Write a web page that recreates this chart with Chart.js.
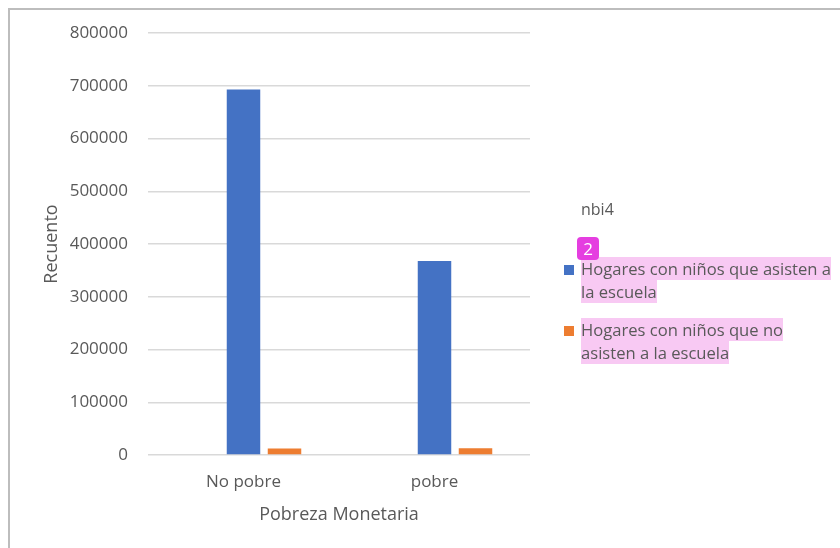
<!DOCTYPE html>
<html lang="es">
<head>
<meta charset="utf-8">
<title>Recuento por Pobreza Monetaria</title>
<script src="https://cdn.jsdelivr.net/npm/chart.js@4.4.0/dist/chart.umd.min.js"></script>
<style>
  html, body { margin: 0; padding: 0; background: #fff; }
  #wrap {
    position: relative; width: 840px; height: 548px; overflow: hidden;
    font-family: "Open Sans", sans-serif; color: #595959;
  }
  #chart { position: absolute; left: 0; top: 0; }
  #frame {
    position: absolute; left: 8px; top: 8px; width: 900px; height: 600px;
    border: 2px solid #bdbdbd; pointer-events: none;
  }
  #legend { position: absolute; left: 564px; top: 198px; }
  #legend .title { padding-left: 17px; font-size: 16px; line-height: 22px; }
  #legend .item { display: flex; margin-top: 15px; }
  #legend .item.first { margin-top: 37px; }
  #legend .box { width: 10px; height: 10px; margin-top: 8px; margin-right: 7px; flex: none; }
  #legend .text { font-size: 16.6px; line-height: 23px; white-space: nowrap; }
  #legend .text span { background: #f8c9f3; }
  #badge {
    position: absolute; left: 577px; top: 237px; width: 22px; height: 23px;
    border-radius: 4px; background: #e53ee0; color: #fff;
    font-size: 17px; line-height: 23px; text-align: center;
  }
</style>
</head>
<body>
<div id="wrap">
  <canvas id="chart" width="840" height="548"></canvas>
  <div id="frame"></div>
  <div id="legend"></div>
  <div id="badge">2</div>
</div>
<script>
/* ===============================
   DATA
================================= */

const categories = ["No pobre", "pobre"];
const legendTitle = "nbi4";

// empty first series (Excel keeps its slot in each group)
const serieVacia = [null, null];
const serieAsisten = [693000, 368000];
const serieNoAsisten = [12500, 13000];

const labelAsisten = ["Hogares con niños que asisten a", "la escuela"];
const labelNoAsisten = ["Hogares con niños que no", "asisten a la escuela"];

const yMax = 800000;
const yStep = 100000;

const textColor = "#595959";
const fontFamily = "'Open Sans', sans-serif";

/* ===============================
   HTML LEGEND
================================= */

const htmlLegend = {
  id: "htmlLegend",
  afterUpdate(chart) {
    const box = document.getElementById("legend");
    box.innerHTML = "";

    const title = document.createElement("div");
    title.className = "title";
    title.textContent = legendTitle;
    box.appendChild(title);

    let first = true;
    chart.data.datasets.forEach(ds => {
      if (!ds.legendLines) return;
      const item = document.createElement("div");
      item.className = first ? "item first" : "item";
      first = false;
      const sw = document.createElement("div");
      sw.className = "box";
      sw.style.background = ds.backgroundColor;
      const txt = document.createElement("div");
      txt.className = "text";
      txt.innerHTML = ds.legendLines.map(l => "<span>" + l + "</span>").join("<br>");
      item.appendChild(sw);
      item.appendChild(txt);
      box.appendChild(item);
    });
  }
};

/* ===============================
   CHART
================================= */

new Chart(document.getElementById("chart"), {
  type: "bar",
  data: {
    labels: categories,
    datasets: [
      { label: "", data: serieVacia, backgroundColor: "#a5a5a5" },
      { label: labelAsisten.join(" "), legendLines: labelAsisten, data: serieAsisten, backgroundColor: "#4472c4" },
      { label: labelNoAsisten.join(" "), legendLines: labelNoAsisten, data: serieNoAsisten, backgroundColor: "#ed7d31" }
    ]
  },
  options: {
    responsive: false,
    animation: false,
    categoryPercentage: 0.644,
    barPercentage: 0.817,
    layout: { padding: { left: 0, right: 310, top: 33, bottom: 0 } },
    plugins: {
      legend: { display: false },
      tooltip: { enabled: false }
    },
    scales: {
      x: {
        grid: { display: false },
        border: { display: false },
        ticks: { color: textColor, font: { family: fontFamily, size: 17 }, padding: 9 },
        title: {
          display: true,
          text: "Pobreza Monetaria",
          color: textColor,
          font: { family: fontFamily, size: 18 },
          padding: { top: 0, bottom: 22 }
        },
        afterFit(s) { s.height = 93; }
      },
      y: {
        min: 0,
        max: yMax,
        grid: { color: "#d9d9d9", lineWidth: 1.5, drawTicks: false },
        border: { display: false },
        ticks: {
          stepSize: yStep,
          color: textColor,
          font: { family: fontFamily, size: 17 },
          padding: 20,
          callback: v => String(v)
        },
        title: {
          display: true,
          text: "Recuento",
          color: textColor,
          font: { family: fontFamily, size: 18 },
          padding: { top: 41, bottom: 0 }
        },
        afterFit(s) { s.width = 148; }
      }
    }
  },
  plugins: [htmlLegend]
});
</script>
</body>
</html>
